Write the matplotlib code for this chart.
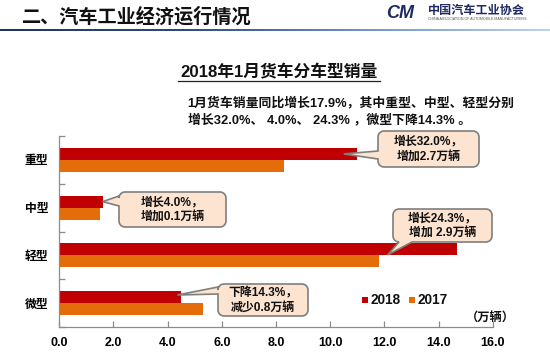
import matplotlib
matplotlib.use('Agg')
import matplotlib.pyplot as plt
import numpy as np
from matplotlib.patches import Polygon
from matplotlib.transforms import IdentityTransform
from matplotlib.colors import LinearSegmentedColormap

plt.rcParams['font.family'] = ['Liberation Sans', 'Noto Sans CJK SC', 'DejaVu Sans']
plt.rcParams['font.weight'] = 'bold'

# ---------------- data ----------------
categories = ['重型', '中型', '轻型', '微型']
sales_2018 = [11.0, 1.6, 14.7, 4.5]
sales_2017 = [8.3, 1.5, 11.8, 5.3]
series_names = ['2018', '2017']
x_ticks = [0, 2, 4, 6, 8, 10, 12, 14, 16]
x_tick_labels = ['0.0', '2.0', '4.0', '6.0', '8.0', '10.0', '12.0', '14.0', '16.0']
callout_texts = ['增长32.0%，\n增加2.7万辆', '增长4.0%，\n增加0.1万辆',
                 '增长24.3%，\n增加 2.9万辆', '下降14.3%，\n减少0.8万辆']
header = '二、汽车工业经济运行情况'
title = '2018年1月货车分车型销量'
note = ['1月货车销量同比增长17.9%，其中重型、中型、轻型分别',
        '增长32.0%、 4.0%、 24.3% ，微型下降14.3% 。']
unit = '（万辆）'

C18 = '#C00000'
C17 = '#E46C0A'
W, H = 550, 355

fig = plt.figure(figsize=(5.5, 3.55), dpi=100)
fig.patch.set_facecolor('white')


def fx(px):
    return px / W


def fy(py):
    return 1 - py / H


# ---------------- main axes ----------------
ax = fig.add_axes([fx(59.3), 28 / H, 433.4 / W, 191 / H])
y = np.arange(len(categories))
ax.barh(y - 0.125, sales_2018, height=0.25, color=C18, zorder=2)
ax.barh(y + 0.125, sales_2017, height=0.25, color=C17, zorder=2)
ax.set_xlim(0, 16)
ax.set_ylim(3.5, -0.5)
for s in ['top', 'right']:
    ax.spines[s].set_visible(False)
for s in ['left', 'bottom']:
    ax.spines[s].set_color('#8C8C8C')
    ax.spines[s].set_linewidth(0.9)
ax.set_xticks(x_ticks)
ax.set_xticklabels(x_tick_labels, fontsize=9, fontweight='bold')
ax.set_yticks(np.arange(-0.5, 4, 1.0))
ax.set_yticklabels([])
ax.set_yticks(y, minor=True)
ax.set_yticklabels(categories, minor=True, fontsize=8.5, fontweight='bold')
ax.tick_params(axis='both', which='major', direction='in', length=4, color='#8C8C8C', width=0.9)
ax.tick_params(axis='x', pad=7)
ax.tick_params(axis='y', which='minor', length=0, pad=8)
ax.set_facecolor('white')

# ---------------- header ----------------
fig.text(fx(22), fy(17), header, fontsize=13.8, fontweight='bold', va='center', ha='left', color='#111111')
gax = fig.add_axes([0, fy(31.5), 1, 2.2 / H])
cmap = LinearSegmentedColormap.from_list('hdr', ['#1E3563', '#2B4A82', '#6F95C8', '#BCD4EE'])
gax.imshow(np.linspace(0, 1, 256).reshape(1, -1), aspect='auto', cmap=cmap)
gax.axis('off')

# logo
fig.text(fx(386), fy(13.5), 'CM', fontsize=13, fontweight='bold', style='italic',
         color='#1F2A60', va='center', ha='left', family=['Liberation Sans'])
fig.text(fx(428), fy(10.5), '中国汽车工业协会', fontsize=8.7, fontweight='bold',
         color='#1F2A60', va='center', ha='left', family=['Noto Sans CJK SC'])
fig.text(fx(428), fy(19), 'CHINA ASSOCIATION OF AUTOMOBILE MANUFACTURERS', fontsize=2.6,
         color='#555555', va='center', ha='left', fontweight='normal')

# ---------------- title & note ----------------
fig.text(fx(279), fy(72), title, fontsize=12.1, fontweight='bold', ha='center', va='center', color='#111111')
fig.add_artist(plt.Line2D([fx(178), fx(380)], [fy(80.5), fy(80.5)], color='#222222', lw=0.9))
fig.text(fx(187.5), fy(103), note[0], fontsize=9.25, fontweight='bold', ha='left', va='center', color='#111111')
fig.text(fx(187.5), fy(119.5), note[1], fontsize=9.25, fontweight='bold', ha='left', va='center', color='#111111')

# ---------------- legend & unit ----------------
for i, (nm, col) in enumerate(zip(series_names, [C18, C17])):
    x0 = 362 + i * 47
    fig.add_artist(Polygon([(x0, H - 297), (x0 + 6, H - 297), (x0 + 6, H - 303), (x0, H - 303)],
                           closed=True, fc=col, ec='none', transform=IdentityTransform()))
    fig.text(fx(x0 + 8.5), fy(300), nm, fontsize=9.8, fontweight='bold', ha='left', va='center', color='#111111')
fig.text(fx(490), fy(317.5), unit, fontsize=8.8, fontweight='bold', ha='center', va='center', color='#111111')

# ---------------- callouts ----------------
fig.canvas.draw()


def rounded_callout(x0, y0, x1, y1, tip, side, b0, b1, r=6):
    """pixel coords, y measured from top of figure"""
    X0, X1 = x0, x1
    Y0, Y1 = H - y1, H - y0  # display (y up)
    pts = []

    def arc(cx, cy, a0, a1):
        for a in np.linspace(np.radians(a0), np.radians(a1), 8):
            pts.append((cx + r * np.cos(a), cy + r * np.sin(a)))
    pts.append((X0 + r, Y0))
    if side == 'bottom':
        pts += [(b0, Y0), tip, (b1, Y0)]
    arc(X1 - r, Y0 + r, -90, 0)
    arc(X1 - r, Y1 - r, 0, 90)
    arc(X0 + r, Y1 - r, 90, 180)
    if side == 'left':
        pts += [(X0, H - b0), tip, (X0, H - b1)]
    arc(X0 + r, Y0 + r, 180, 270)
    poly = Polygon(pts, closed=True, fc='#FCE4D0', ec='#7F7F7F', lw=1.2,
                   transform=IdentityTransform(), zorder=5)
    fig.add_artist(poly)


boxes = [((378, 131, 479, 167), 'left', (151, 159), (-0.5, -0.125)),
         ((119, 192, 226, 227), 'left', (196, 206), (0.0, 0.875)),
         ((393, 209, 492, 242), 'bottom', (399, 412), (-2.58, 1.99)),
         ((218, 284, 308, 316), 'left', (287, 294), (-0.14, 2.83))]
for i, ((x0, y0, x1, y1), side, (b0, b1), (dx, ty)) in enumerate(boxes):
    tip = tuple(ax.transData.transform((sales_2018[i] + dx, ty)))
    rounded_callout(x0, y0, x1, y1, tip, side, b0, b1)
    fig.text(fx((x0 + x1) / 2), fy((y0 + y1) / 2), callout_texts[i], fontsize=8.6,
             fontweight='bold', ha='center', va='center', color='#111111',
             linespacing=1.3, zorder=7)

fig.savefig('out.png', dpi=100, facecolor='white')
